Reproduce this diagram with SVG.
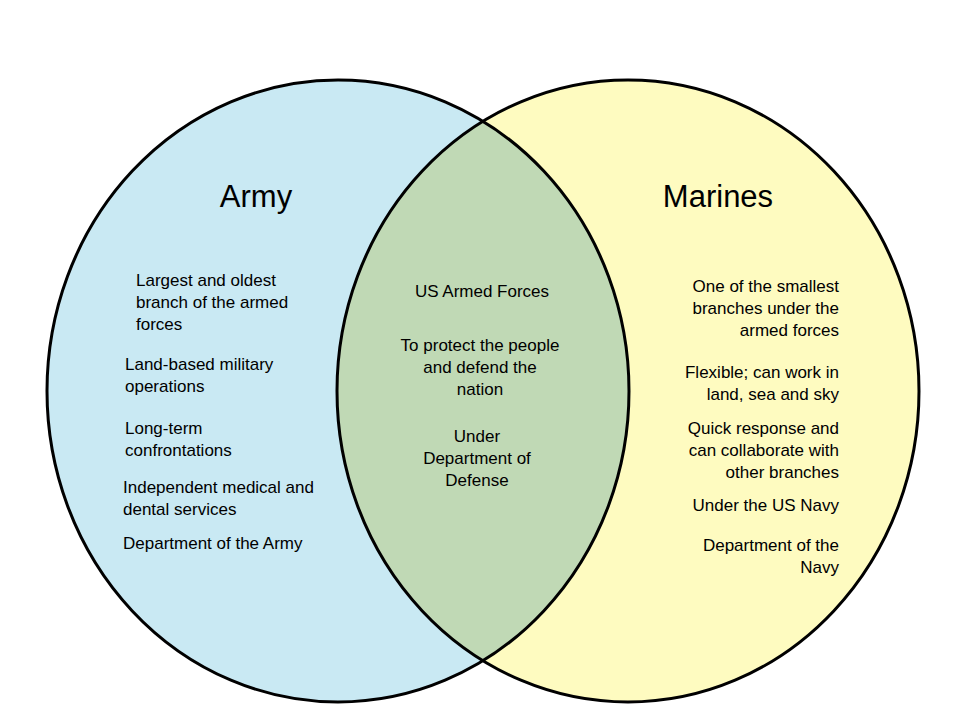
<svg xmlns="http://www.w3.org/2000/svg" width="960" height="720" viewBox="0 0 960 720">
<style>
text{font-family:"Liberation Sans",Arial,sans-serif;font-size:17px;fill:#000}
.t{font-size:31px}
.r{text-anchor:end}
.m{text-anchor:middle}
.o{fill:none;stroke:#000;stroke-width:3}
</style>
<defs><clipPath id="cl"><ellipse cx="338" cy="391" rx="291" ry="311"/></clipPath></defs>
<rect width="960" height="720" fill="#fff"/>
<g id="army"><ellipse cx="338" cy="391" rx="291" ry="311" fill="#c9e9f3"/></g>
<g id="marines"><ellipse cx="628" cy="391" rx="291" ry="311" fill="#fefbc0"/></g>
<g id="both"><ellipse cx="628" cy="391" rx="291" ry="311" fill="#c0d9b5" clip-path="url(#cl)"/></g>
<g id="outlines"><ellipse class="o" cx="338" cy="391" rx="291" ry="311"/><ellipse class="o" cx="628" cy="391" rx="291" ry="311"/></g>
<g id="labels">
<text class="t m" x="256" y="207">Army</text>
<text class="t m" x="718" y="207">Marines</text>
<text x="136" y="286">Largest and oldest</text>
<text x="136" y="308">branch of the armed</text>
<text x="136" y="330">forces</text>
<text x="125" y="370">Land-based military</text>
<text x="125" y="392">operations</text>
<text x="125" y="434">Long-term</text>
<text x="125" y="456">confrontations</text>
<text x="123" y="493">Independent medical and</text>
<text x="123" y="515">dental services</text>
<text x="123" y="549">Department of the Army</text>
<text class="m" x="482" y="297">US Armed Forces</text>
<text class="m" x="480" y="351">To protect the people</text>
<text class="m" x="480" y="373">and defend the</text>
<text class="m" x="480" y="395">nation</text>
<text class="m" x="477" y="442">Under</text>
<text class="m" x="477" y="464">Department of</text>
<text class="m" x="477" y="486">Defense</text>
<text class="r" x="839" y="292">One of the smallest</text>
<text class="r" x="839" y="314">branches under the</text>
<text class="r" x="839" y="336">armed forces</text>
<text class="r" x="839" y="378">Flexible; can work in</text>
<text class="r" x="839" y="400">land, sea and sky</text>
<text class="r" x="839" y="434">Quick response and</text>
<text class="r" x="839" y="456">can collaborate with</text>
<text class="r" x="839" y="478">other branches</text>
<text class="r" x="839" y="511">Under the US Navy</text>
<text class="r" x="839" y="551">Department of the</text>
<text class="r" x="839" y="573">Navy</text>
</g>
</svg>
